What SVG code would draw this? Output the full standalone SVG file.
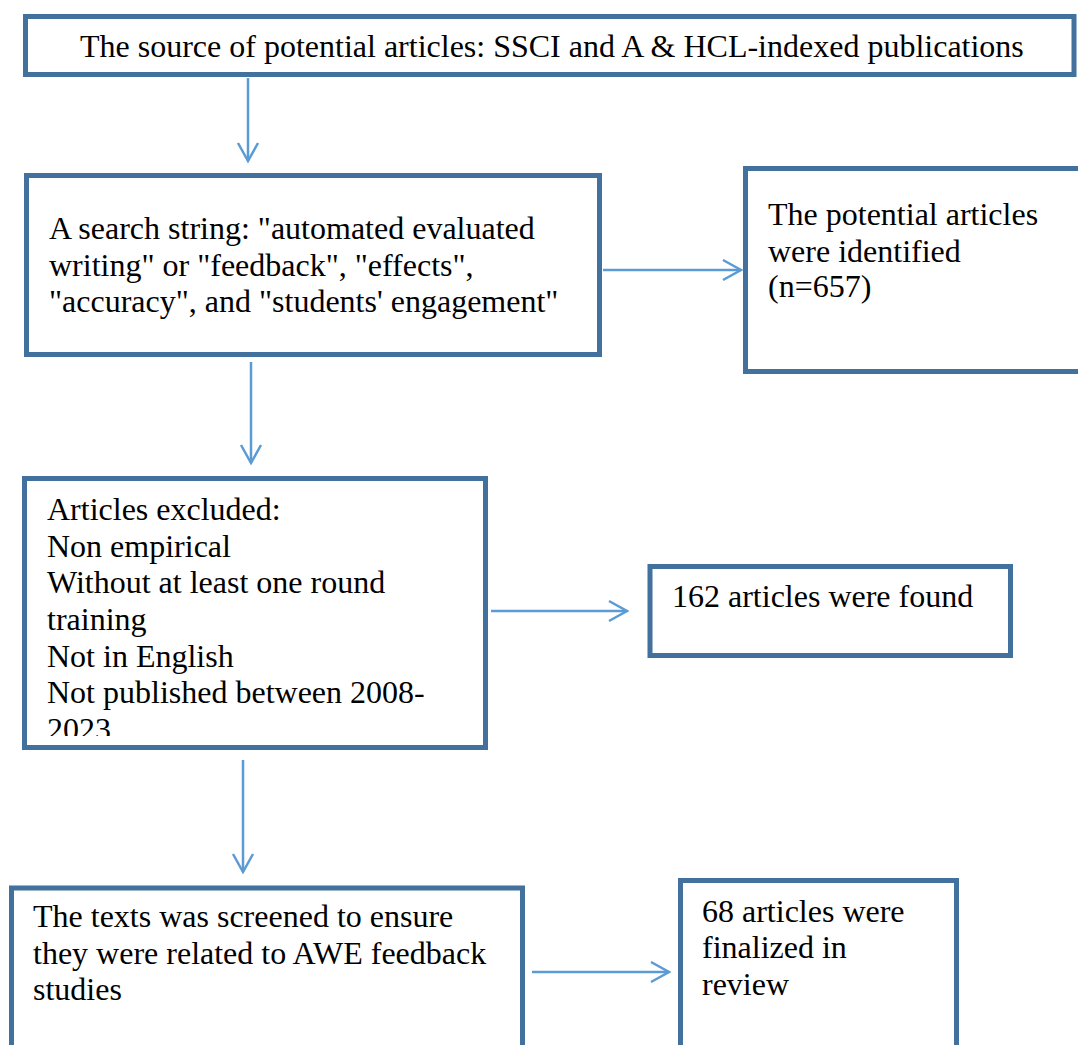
<svg xmlns="http://www.w3.org/2000/svg" width="1078" height="1045" viewBox="0 0 1078 1045">
<style>
.box{fill:#fff;stroke:#41719C;stroke-width:5}
.t{font-family:"Liberation Serif","Times New Roman",serif;font-size:32px;fill:#000}
.c{fill:none;stroke:#5B9BD5;stroke-width:2.5}
</style>
<defs>
<marker id="arr" markerUnits="userSpaceOnUse" markerWidth="24" markerHeight="24" viewBox="0 0 24 24" refX="20" refY="12" orient="auto">
<path d="M2,2 L20,12 L2,22" fill="none" stroke="#5B9BD5" stroke-width="2.5"/>
</marker>
<clipPath id="clipEx"><rect x="24" y="478" width="462" height="258"/></clipPath>
</defs>
<rect width="1078" height="1045" fill="#fff"/>
<g id="connectors">
<line class="c" x1="248" y1="78" x2="248" y2="161" marker-end="url(#arr)"/>
<line class="c" x1="251" y1="362" x2="251" y2="463" marker-end="url(#arr)"/>
<line class="c" x1="243" y1="760" x2="243" y2="872" marker-end="url(#arr)"/>
<line class="c" x1="603" y1="270" x2="741" y2="270" marker-end="url(#arr)"/>
<line class="c" x1="491" y1="611" x2="627" y2="611" marker-end="url(#arr)"/>
<line class="c" x1="532" y1="972" x2="669" y2="972" marker-end="url(#arr)"/>
</g>
<g id="source">
<rect class="box" x="25.5" y="16.5" width="1048.5" height="58"/>
<text class="t" x="80" y="57">The source of potential articles: SSCI and A &amp; HCL-indexed publications</text>
</g>
<g id="search">
<rect class="box" x="26.5" y="175.5" width="573" height="179"/>
<text class="t" x="49" y="239">A search string: "automated evaluated</text>
<text class="t" x="49" y="275.5">writing" or "feedback", "effects",</text>
<text class="t" x="49" y="312">"accuracy", and "students' engagement"</text>
</g>
<g id="identified">
<rect class="box" x="745.5" y="168.5" width="360" height="203"/>
<text class="t" x="768" y="225">The potential articles</text>
<text class="t" x="768" y="262">were identified</text>
<text class="t" x="768" y="297">(n=657)</text>
</g>
<g id="excluded">
<rect class="box" x="24.5" y="478.5" width="461" height="269"/>
<g clip-path="url(#clipEx)">
<text class="t" x="47" y="520">Articles excluded:</text>
<text class="t" x="47" y="556.7">Non empirical</text>
<text class="t" x="47" y="593">Without at least one round</text>
<text class="t" x="47" y="629.5">training</text>
<text class="t" x="47" y="666.5">Not in English</text>
<text class="t" x="47" y="703">Not published between 2008-</text>
<text class="t" x="47" y="740">2023</text>
</g>
</g>
<g id="found">
<rect class="box" x="650" y="566.5" width="360.5" height="89"/>
<text class="t" x="672" y="607">162 articles were found</text>
</g>
<g id="screened">
<rect class="box" x="11.5" y="888" width="511" height="200"/>
<text class="t" x="33" y="927">The texts was screened to ensure</text>
<text class="t" x="33" y="964">they were related to AWE feedback</text>
<text class="t" x="33" y="1000">studies</text>
</g>
<g id="finalized">
<rect class="box" x="680.5" y="880.5" width="276" height="200"/>
<text class="t" x="702" y="922">68 articles were</text>
<text class="t" x="702" y="958">finalized in</text>
<text class="t" x="702" y="995">review</text>
</g>
</svg>
